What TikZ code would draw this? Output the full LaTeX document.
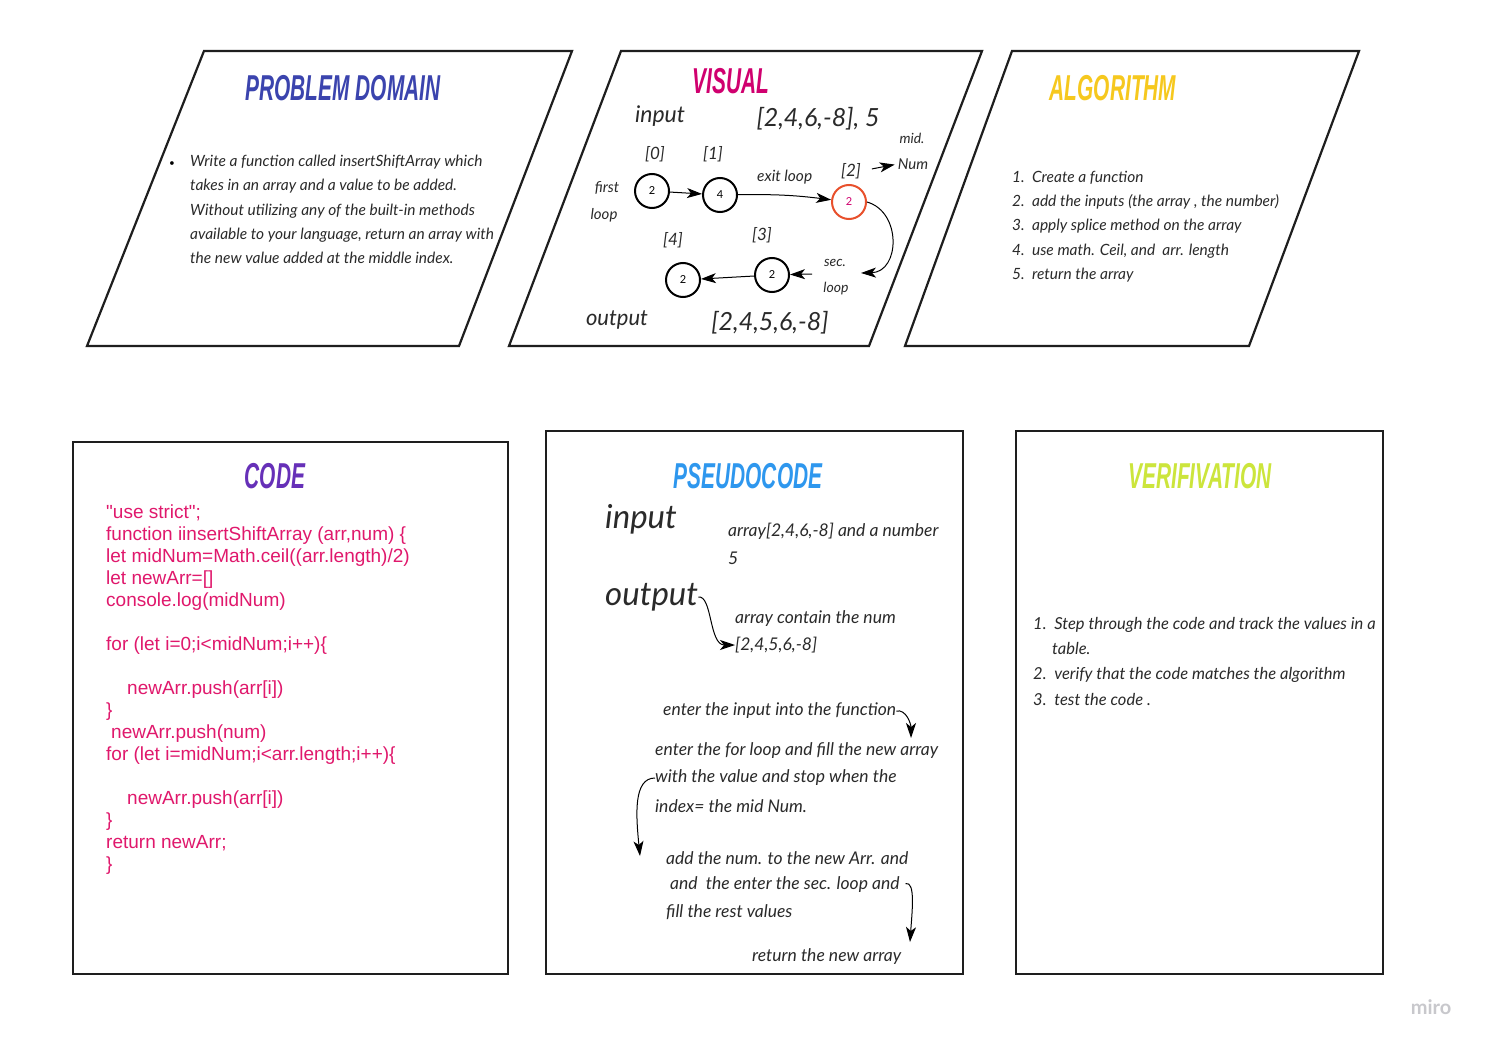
\documentclass[tikz,border=0pt]{standalone}
\usepackage{fontspec}
\setmainfont{Lato}
\newfontfamily\titlefont{Liberation Sans}[FakeStretch=0.58]
\newfontfamily\codefont{Liberation Sans}
\usetikzlibrary{arrows.meta, positioning, calc}

\definecolor{framegray}{HTML}{1E1E1E}
\definecolor{inkgray}{HTML}{2A2A2A}
\definecolor{domainblue}{HTML}{3B44AE}
\definecolor{visualpink}{HTML}{D0006F}
\definecolor{algoyellow}{HTML}{F6C81E}
\definecolor{codepurple}{HTML}{6630B8}
\definecolor{pseudoblue}{HTML}{2E97EE}
\definecolor{verilime}{HTML}{CCE53C}
\definecolor{codepink}{HTML}{E0186C}
\definecolor{midred}{HTML}{E8502C}
\definecolor{mirogray}{HTML}{C8C8CC}

\begin{document}
\begin{tikzpicture}[x=1pt, y=-1pt, >=Stealth,
  panel/.style={draw=framegray, line width=2.2pt, line join=miter},
  title/.style={font=\titlefont\bfseries\itshape\fontsize{36}{36}\selectfont},
  hand/.style={font=\itshape\fontsize{#1}{#1}\selectfont, text=inkgray, inner sep=0},
  hand/.default=13,
  block/.style={font=\itshape\fontsize{15.5}{24.2}\selectfont, text=inkgray, inner sep=0, align=left, anchor=north west},
  cell/.style={circle, draw, line width=2pt, minimum size=34pt, inner sep=0, font=\fontsize{11}{11}\selectfont},
  flow/.style={-{Stealth[length=15pt,width=10pt,inset=4pt]}, line width=1pt}]
\useasboundingbox[fill=white] (0,0) rectangle (1489,1049);

% panels
\draw[panel] (204,51) -- (572,51) -- (459,346) -- (87,346) -- cycle;
\draw[panel] (621,51) -- (982,51) -- (869,346) -- (509,346) -- cycle;
\draw[panel] (1012,51) -- (1359,51) -- (1249,346) -- (905,346) -- cycle;
\draw[panel] (73,442) rectangle (508,974);
\draw[panel] (546,431) rectangle (963,974);
\draw[panel] (1016,431) rectangle (1383,974);

% titles
\node[title, text=domainblue] (domain) at (343,88) {PROBLEM DOMAIN};
\node[title, text=visualpink] (visual) at (731,81) {VISUAL};
\node[title, text=algoyellow] (algo) at (1113,88) {ALGORITHM};
\node[title, text=codepurple] (code) at (275,476) {CODE};
\node[title, text=pseudoblue] (pseudo) at (748,476) {PSEUDOCODE};
\node[title, text=verilime] (verif) at (1200,476) {VERIFIVATION};

% problem domain
\node[font=\fontsize{10}{10}\selectfont] (bullet) at (172,164) {\textbullet};
\node[block] (task) at (190,155) {Write a function called insertShiftArray which\\
takes in an array and a value to be added.\\
Without utilizing any of the built-in methods\\
available to your language, return an array with\\
the new value added at the middle index.};

% visual
\node[hand=23] (vin) at (660,116) {input};
\node[hand=25] (varr) at (818,119) {[2,4,6,-8], 5};
\node[hand=14] (mid) at (912,138) {mid.};
\node[hand=15] (num) at (913,164) {Num};
\node[hand=17] (i0) at (655,154) {[0]};
\node[hand=17] (i1) at (713,154) {[1]};
\node[hand=17] (i2) at (851,171) {[2]};
\node[hand=17] (i3) at (762,235) {[3]};
\node[hand=17] (i4) at (673,240) {[4]};
\node[hand=15] (first) at (607,188) {first};
\node[hand=15] (loopa) at (604,215) {loop};
\node[hand=14] (sec) at (835,263) {sec.};
\node[hand=14] (loopb) at (836,289) {loop};
\node[hand=22] (vout) at (617,320) {output};
\node[hand=25] (vres) at (770,323) {[2,4,5,6,-8]};

\node[cell] (c0) at (652,191) {2};
\node[cell] (c1) at (720,195) {4};
\node[cell, draw=midred, text=visualpink] (c2) at (849,202) {2};
\node[cell] (c3) at (772,275) {2};
\node[cell] (c4) at (683,280) {2};
\coordinate (secin) at (861,273);
\coordinate (secout) at (812,274);

\draw[flow] (c0) -- (c1);
\draw[flow] (c1) to[bend left=4] node[hand=15.5, above=11pt] (exit) {exit loop} (c2);
\draw[flow] (c2.east) .. controls (902,212) and (900,272) .. (secin);
\draw[flow] (secout) -- (c3);
\draw[flow] (c3) -- (c4);
\draw[flow, shorten <=11pt, shorten >=3pt] (i2.east) -- (num.west);

% algorithm
\node[block] (steps) at (1012,171) {1.\ \ Create a function\\
2.\ \ add the inputs (the array , the number)\\
3.\ \ apply splice method on the array\\
4.\ \ use math. Ceil, and\ \ arr. length\\
5.\ \ return the array};

% code
\node[font=\codefont\fontsize{19}{22}\selectfont, text=codepink, inner sep=0, align=left, anchor=north west] (js) at (106,505) {"use strict";\\
function iinsertShiftArray (arr,num) \{\\
let midNum=Math.ceil((arr.length)/2)\\
let newArr=[]\\
console.log(midNum)\\[22pt]
for (let i=0;i<midNum;i++)\{\\[22pt]
\hspace*{21pt}newArr.push(arr[i])\\
\}\\
\hspace*{5pt}newArr.push(num)\\
for (let i=midNum;i<arr.length;i++)\{\\[22pt]
\hspace*{21pt}newArr.push(arr[i])\\
\}\\
return newArr;\\
\}};

% pseudocode
\node[hand=33, anchor=west] (pin) at (605,519) {input};
\node[hand=33, anchor=west] (pout) at (605,597) {output};
\node[hand=17.5, anchor=west] (parr) at (728,531) {array[2,4,6,-8] and a number};
\node[hand=17.5, anchor=west] (pfive) at (728,558) {5};
\node[hand=17.5, anchor=west] (pcont) at (735,619) {array contain the num};
\node[hand=17.5, anchor=west] (pres) at (735,645) {[2,4,5,6,-8]};
\draw[flow] (pout.east) .. controls +(14,-2) and +(-26,0) .. (pres.west);

\node[hand=17.5, anchor=west] (s1) at (663,711) {enter the input into the function};
\node[hand=17.5, anchor=west] (s2) at (655,751) {enter the for loop and fill the new array};
\node[hand=17.5, anchor=west] (s3) at (655,778) {with the value and stop when the};
\node[hand=17.5, anchor=west] (s4) at (655,806) {index= the mid Num.};
\node[hand=17.5, anchor=west] (s5) at (666,858) {add the num. to the new Arr. and};
\node[hand=17.5, anchor=west] (s6) at (670,885) {and\ \ the enter the sec. loop and};
\node[hand=17.5, anchor=west] (s7) at (666,912) {fill the rest values};
\node[hand=17.5, anchor=west] (s8) at (752,957) {return the new array};
\coordinate (s1end) at (911,738);
\coordinate (s3end) at (640,856);
\coordinate (s6end) at (910,942);
\draw[flow] (s1.east) .. controls +(10,-2) and +(0,-14) .. (s1end);
\draw[flow] (s3.west) .. controls +(-22,0) and +(-4,-40) .. (s3end);
\draw[flow, shorten <=6pt] (s6.east) .. controls +(16,-4) and +(2,-30) .. (s6end);

% verification
\node[block, font=\itshape\fontsize{16.5}{25.3}\selectfont] (checks) at (1033,617) {1.\ \ Step through the code and track the values in a\\
\hspace*{19pt}table.\\
2.\ \ verify that the code matches the algorithm\\
3.\ \ test the code .};

\node[font=\bfseries\fontsize{20}{20}\selectfont, text=mirogray] (miro) at (1431,1007) {miro};
\end{tikzpicture}
\end{document}
